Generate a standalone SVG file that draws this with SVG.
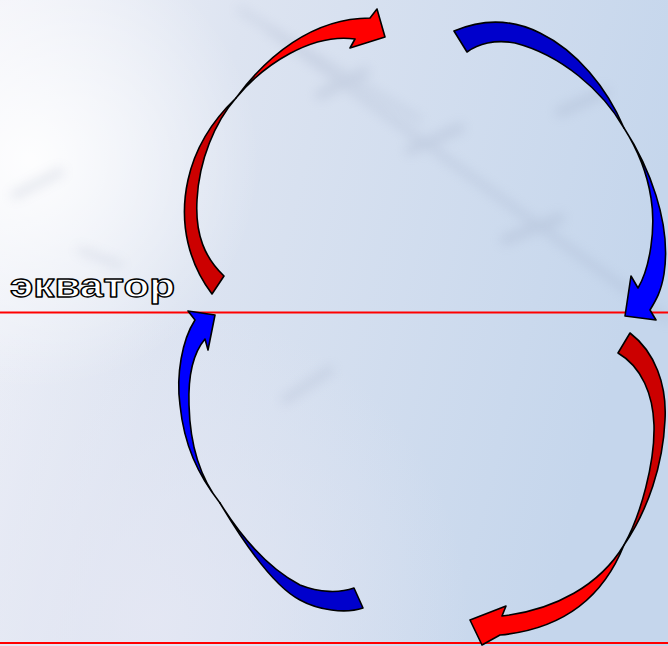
<svg xmlns="http://www.w3.org/2000/svg" width="668" height="646" viewBox="0 0 668 646">
  <defs>
    <linearGradient id="bg" x1="0" y1="0" x2="1" y2="0.25">
      <stop offset="0" stop-color="#f2f3f9"/>
      <stop offset="0.35" stop-color="#dde4f1"/>
      <stop offset="1" stop-color="#c5d6ec"/>
    </linearGradient>
    <radialGradient id="glow" cx="30" cy="160" r="230" gradientUnits="userSpaceOnUse">
      <stop offset="0" stop-color="#ffffff" stop-opacity="0.9"/>
      <stop offset="0.5" stop-color="#ffffff" stop-opacity="0.45"/>
      <stop offset="1" stop-color="#ffffff" stop-opacity="0"/>
    </radialGradient>
    <radialGradient id="glow2" cx="150" cy="620" r="320" gradientUnits="userSpaceOnUse">
      <stop offset="0" stop-color="#e6e8f4" stop-opacity="0.8"/>
      <stop offset="1" stop-color="#e6e8f4" stop-opacity="0"/>
    </radialGradient>
    <filter id="blur" x="-20%" y="-20%" width="140%" height="140%">
      <feGaussianBlur stdDeviation="6"/>
    </filter>
    <style>
      .edge { stroke: #000; stroke-width: 1.6; stroke-linejoin: round; }
      .redF { fill: #ff0000; }
      .redB { fill: #cc0000; }
      .bluF { fill: #0000ff; }
      .bluB { fill: #0000cc; }
      .eq { stroke: #ff0000; stroke-width: 2; fill: none; }
      .lbl { font-family: "Liberation Sans", Arial, sans-serif; font-size: 33px; font-weight: bold; fill: #ffffff; stroke: #000000; stroke-width: 1.3; stroke-linejoin: round; }
    </style>
  </defs>

  <g id="background">
    <rect x="0" y="0" width="668" height="646" fill="url(#bg)"/>
    <rect x="0" y="0" width="668" height="646" fill="url(#glow2)"/>
    <rect x="0" y="0" width="668" height="646" fill="url(#glow)"/>
    <g filter="url(#blur)" opacity="0.22" fill="none" stroke="#8e9ab5" stroke-linecap="round">
      <path d="M270 30 L668 320" stroke-width="7"/>
      <path d="M240 10 L420 120" stroke-width="5"/>
      <path d="M320 95 L365 72" stroke-width="10"/>
      <path d="M410 150 L460 128" stroke-width="10"/>
      <path d="M505 240 L560 218" stroke-width="10"/>
      <path d="M560 112 L605 92" stroke-width="10"/>
      <path d="M15 195 L60 172" stroke-width="8"/>
      <path d="M285 400 L330 370" stroke-width="8"/>
      <path d="M80 250 L120 265" stroke-width="6"/>
    </g>
  </g>

  <g id="lines">
    <line class="eq" x1="0" y1="312.5" x2="668" y2="312.5"/>
    <line class="eq" x1="0" y1="643" x2="668" y2="643"/>
  </g>

  <g id="label">
    <text class="lbl" x="10" y="297" textLength="165" lengthAdjust="spacingAndGlyphs">экватор</text>
  </g>

  <g id="connectors">
    <g id="arrow-red-top">
      <path class="redB edge" d="M212 294 C190 265 178 225 188 180 C195 148 213 120 236 98 C215 122 199 160 197 200 C195 235 205 258 224 276 Z"/>
      <path class="redF edge" d="M236 98 C266 57 312 18 370 18 L377 9 L385 37 L350 48 L355 39 C312 33 264 64 236 98 Z"/>
    </g>
    <g id="arrow-blue-top">
      <path class="bluB edge" d="M454 31 C480 20 510 18 540 33 C577 51 607 88 624 128 C602 90 561 55 515 43 C495 39 478 44 467 52 Z"/>
      <path class="bluF edge" d="M624 128 C648 165 672 222 664 274 C661 292 656 300 650 310 L656 320 L625 316 L631 276 L638 288 C650 268 656 228 651 198 C647 172 638 150 624 128 Z"/>
    </g>
    <g id="arrow-blue-bottom">
      <path class="bluF edge" d="M195 320 L188 311 L215 315 L208 350 L205 339 C194 352 188 375 189 405 C190 445 200 478 220 503 C198 475 184 445 180 405 C176 375 182 340 195 320 Z"/>
      <path class="bluB edge" d="M220 503 C240 535 268 568 300 585 C320 593 340 593 354 588 L363 608 C345 614 318 610 300 600 C275 587 245 545 220 503 Z"/>
    </g>
    <g id="arrow-red-bottom">
      <path class="redB edge" d="M630 333 C655 352 667 385 665 420 C663 465 648 510 624 545 C641 515 655 462 654 425 C653 395 642 367 618 353 Z"/>
      <path class="redF edge" d="M624 545 C608 585 575 628 500 635 L482 645 L470 620 L506 606 L502 616 C555 610 600 585 624 545 Z"/>
    </g>
  </g>
</svg>
